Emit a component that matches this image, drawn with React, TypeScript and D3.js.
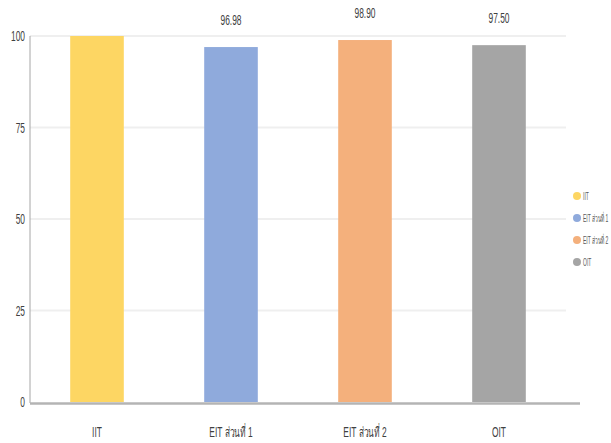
import React from "react";
import * as d3 from "d3";

const categories = ["IIT", "EIT ส่วนที่ 1", "EIT ส่วนที่ 2", "OIT"];
const values = [100, 96.98, 98.9, 97.5];
const valueLabels = ["", "96.98", "98.90", "97.50"];
const colors = ["#FDD663", "#8FAADC", "#F4B07C", "#A5A5A5"];
const yTicks = [0, 25, 50, 75, 100];

const W = 611;
const H = 443;
const left = 30;
const gridRight = 566;
const axisRight = 580;
const top = 36;
const bottom = 402;

export default function App() {
  const x = d3.scaleBand<string>().domain(categories).range([left, gridRight]).paddingInner(0.6).paddingOuter(0.3);
  const y = d3.scaleLinear().domain([0, 100]).range([bottom, top]);
  const sx = 0.6;
  const font = "'Liberation Sans', Arial, sans-serif";
  return (
    <svg width={W} height={H} style={{ position: "absolute", left: 0, top: 0, background: "#fff" }}>
      {yTicks.filter((t) => t > 0).map((t) => (
        <line key={"g" + t} x1={left} x2={gridRight} y1={y(t)} y2={y(t)} stroke="#EFEFEF" strokeWidth={2} />
      ))}
      {yTicks.map((t) => (
        <text key={"t" + t} transform={`translate(25,${y(t) + 5}) scale(${sx},1)`} textAnchor="end" fontFamily={font} fontSize={14} fill="#404040">
          {t}
        </text>
      ))}
      {categories.map((c, i) => (
        <rect key={c} x={x(c)} y={y(values[i])} width={x.bandwidth()} height={y(0) - y(values[i])} fill={colors[i]} />
      ))}
      <line x1={left} x2={left} y1={top} y2={bottom + 1} stroke="#A6A6A6" strokeWidth={1} />
      <line x1={left} x2={axisRight} y1={bottom + 1.5} y2={bottom + 1.5} stroke="#B4B4B4" strokeWidth={2.5} />
      {categories.map((c, i) =>
        valueLabels[i] ? (
          <text key={"v" + c} transform={`translate(${(x(c) as number) + x.bandwidth() / 2},${y(values[i]) - 22}) scale(${sx},1)`} textAnchor="middle" fontFamily={font} fontSize={14} fill="#404040">
            {valueLabels[i]}
          </text>
        ) : null
      )}
      {categories.map((c) => (
        <text key={"c" + c} transform={`translate(${(x(c) as number) + x.bandwidth() / 2},437) scale(${sx},1)`} textAnchor="middle" fontFamily={font} fontSize={14} fill="#404040">
          {c}
        </text>
      ))}
      {categories.map((c, i) => (
        <g key={"l" + c} transform={`translate(577,${196 + i * 22})`}>
          <circle r={4} fill={colors[i]} />
          <text transform={`translate(6,3.5) scale(0.5,1)`} fontFamily={font} fontSize={10} fill="#595959">
            {c}
          </text>
        </g>
      ))}
    </svg>
  );
}
